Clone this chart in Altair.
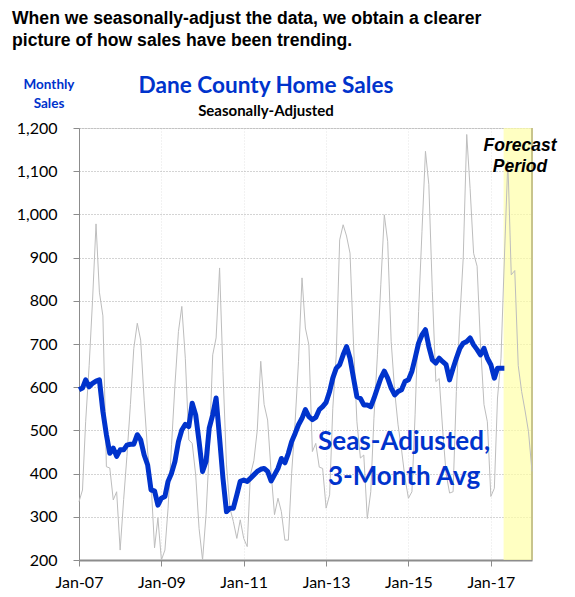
import altair as alt
import pandas as pd

# ---------------- data ----------------
months = pd.date_range("2007-01-01", periods=133, freq="MS")

monthly_sales = [
    335, 362, 520, 650, 800, 978, 820, 765, 416, 413, 339, 358,      # 2007
    223, 340, 440, 560, 690, 748, 709, 570, 450, 380, 228, 297,      # 2008
    200, 223, 320, 467, 605, 729, 787, 667, 478, 470, 397, 273,      # 2009
    200, 305, 451, 675, 714, 876, 636, 420, 320, 289, 250, 293,      # 2010
    250, 231, 397, 430, 500, 660, 560, 524, 403, 305, 343, 312,      # 2011
    246, 246, 400, 520, 660, 853, 737, 698, 451, 470, 415, 412,      # 2012
    320, 351, 551, 675, 941, 976, 950, 910, 700, 520, 436, 443,      # 2013
    296, 358, 528, 675, 837, 999, 937, 706, 590, 513, 455, 390,      # 2014
    343, 358, 536, 775, 960, 1146, 1069, 822, 613, 620, 500, 400,    # 2015
    355, 358, 590, 760, 899, 1185, 1060, 910, 880, 700, 560, 520,    # 2016
    347, 366, 575, 667, 899, 1123, 860, 870, 650, 590, 545, 497,     # 2017
    405,                                                             # 2018
]

seas_adj_3mo = [
    594, 598, 617, 601, 609, 614, 617, 544, 490, 447, 459, 440,      # 2007
    455, 455, 466, 468, 468, 490, 478, 443, 420, 362, 360, 327,      # 2008
    343, 347, 382, 401, 428, 474, 501, 514, 509, 563, 536, 474,      # 2009
    405, 428, 505, 536, 575, 482, 389, 312, 320, 320, 351, 382,      # 2010
    385, 382, 389, 397, 405, 410, 412, 405, 383, 397, 412, 435,      # 2011
    425, 447, 474, 493, 513, 528, 548, 532, 525, 530, 548, 555,      # 2012
    565, 590, 621, 644, 652, 675, 694, 667, 621, 578, 574, 559,      # 2013
    559, 555, 574, 598, 621, 637, 621, 598, 582, 590, 594, 613,      # 2014
    617, 637, 667, 702, 721, 733, 694, 663, 656, 667, 659, 652,      # 2015
    617, 644, 667, 690, 702, 706, 714, 698, 687, 675, 690, 667,      # 2016
    652, 621, 644, 644, 644,                                         # 2017
]

forecast_start = ["2017-04-24"]
forecast_end = ["2018-01-01"]
y_range = [200, 1200]

tick_years = [2007, 2009, 2011, 2013, 2015, 2017]
y_ticks = list(range(200, 1300, 100))

raw_df = pd.DataFrame({"date": months, "sales": monthly_sales})
sa_df = pd.DataFrame({"date": months[: len(seas_adj_3mo)], "sales": seas_adj_3mo})
fc_df = pd.DataFrame({
    "start": pd.to_datetime(forecast_start),
    "end": pd.to_datetime(forecast_end),
    "lo": [y_range[0]],
    "hi": [y_range[1]],
})

# ---------------- styling ----------------
BLUE = "#0033CC"
W, H = 453, 432
LABEL_FONT = "Lato"

x_scale = alt.Scale(
    domain=[alt.DateTime(year=2007, month=1, date=1), alt.DateTime(year=2018, month=1, date=1)],
    nice=False,
)
y_scale = alt.Scale(domain=y_range, nice=False, zero=False)

x_axis = alt.Axis(
    values=[alt.DateTime(year=y, month=1, date=1) for y in tick_years],
    format="%b-%y",
    title=None,
    grid=True,
    gridColor="#e4e4e4",
    gridDash=[1, 2],
    domainColor="#8c8c8c",
    domainWidth=2,
    tickColor="#8c8c8c",
    tickSize=6,
    labelFont=LABEL_FONT,
    labelFontSize=16,
    labelColor="#000000",
    labelPadding=8,
    labelFlush=False,
    labelOverlap=False,
)
y_axis = alt.Axis(
    values=y_ticks,
    format=",.0f",
    title=None,
    grid=True,
    gridColor="#a8a8a8",
    gridDash=[1, 2],
    domainColor="#8c8c8c",
    domainWidth=1,
    tickColor="#8c8c8c",
    tickSize=6,
    labelFont=LABEL_FONT,
    labelFontSize=16,
    labelColor="#000000",
    labelPadding=16,
    labelFlush=False,
    labelOverlap=False,
)

x_enc = alt.X("date:T", scale=x_scale, axis=x_axis)
y_enc = alt.Y("sales:Q", scale=y_scale, axis=y_axis)

forecast_band = alt.Chart(fc_df).mark_rect(color="#FFFFA8", opacity=0.7).encode(
    x=alt.X("start:T", scale=x_scale, axis=x_axis),
    x2="end:T",
    y=alt.Y("hi:Q", scale=y_scale, axis=y_axis),
    y2="lo:Q",
)
forecast_edge = alt.Chart(fc_df).mark_rule(color="#c8c48c", strokeWidth=2).encode(
    x=alt.X("end:T", scale=x_scale, axis=x_axis),
    y=alt.Y("hi:Q", scale=y_scale, axis=y_axis),
    y2="lo:Q",
)

raw_line = alt.Chart(raw_df).mark_line(color="#bdbdbd", strokeWidth=1).encode(x=x_enc, y=y_enc)
sa_line = alt.Chart(sa_df).mark_line(color=BLUE, strokeWidth=5, strokeJoin="round").encode(x=x_enc, y=y_enc)

one = pd.DataFrame({"k": [0]})


def label(text, x, y, size, color="#000000", font=LABEL_FONT, align="center", style="normal", line_height=None):
    kw = dict(
        text=text, font=font, fontSize=size, fontWeight="bold", color=color,
        align=align, baseline="alphabetic", fontStyle=style,
    )
    if line_height is not None:
        kw["lineHeight"] = line_height
    return alt.Chart(one).mark_text(**kw).encode(x=alt.value(x), y=alt.value(y))


headline = label(
    ["When we seasonally-adjust the data, we obtain a clearer", "picture of how sales have been trending."],
    -67, -104, 17.6, font="Liberation Sans", align="left", line_height=22,
)
title = label("Dane County Home Sales", 187, -35, 22.6, color=BLUE)
subtitle = label("Seasonally-Adjusted", 187, -12, 15)
y_title = label(["Monthly", "Sales"], -30, -39, 13.5, color=BLUE, line_height=19)
series_label = label(["Seas-Adjusted,", "3-Month Avg"], 325, 322, 26, color=BLUE, line_height=35)
forecast_label = label(["Forecast", "Period"], 441, 23, 17.5, font="Liberation Sans", style="italic", line_height=21)

chart = (
    alt.layer(
        forecast_band, forecast_edge, raw_line, sa_line,
        headline, title, subtitle, y_title, series_label, forecast_label,
    )
    .properties(
        width=W,
        height=H,
        autosize=alt.AutoSizeParams(type="none"),
        padding={"left": 71, "top": 120, "right": 35, "bottom": 37},
    )
    .configure_view(stroke=None)
    .configure(background="#ffffff")
)

chart.save("out.html", embed_options={"renderer": "svg", "actions": False})
